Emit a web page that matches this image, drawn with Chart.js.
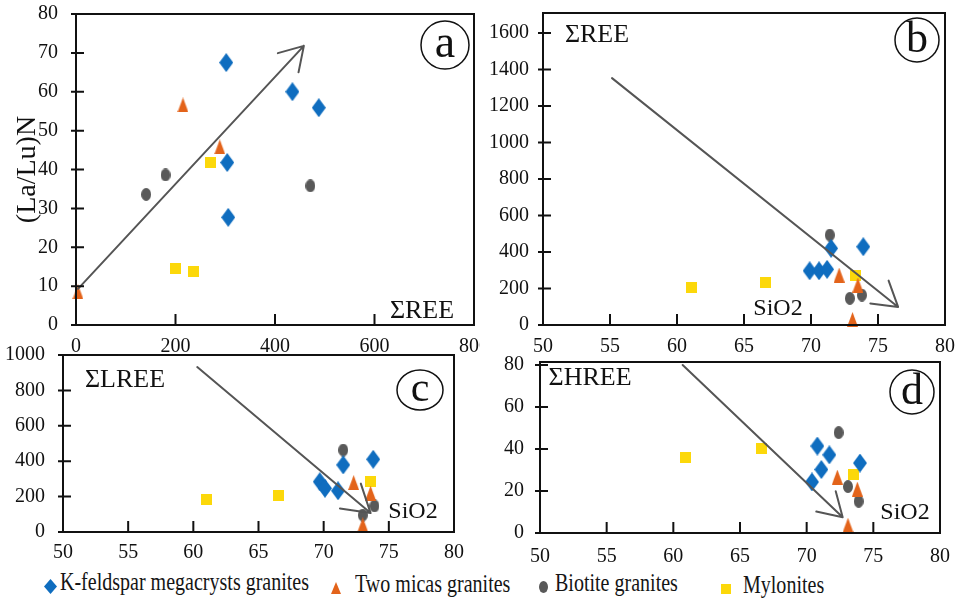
<!DOCTYPE html>
<html>
<head>
<meta charset="utf-8">
<script src="https://cdn.jsdelivr.net/npm/chart.js@4.4.1/dist/chart.umd.min.js"></script>
<style>
  body { margin: 0; background: #fff; }
  #wrap { position: relative; width: 956px; height: 602px; overflow: hidden; background: #fff; }
  canvas { position: absolute; }
  .leg { position: absolute; }
  .legtxt { position: absolute; font-family: 'Liberation Serif', 'Times New Roman', serif; font-size: 26px; line-height: 30px; color: #151515; white-space: nowrap; transform: scaleX(0.77); transform-origin: 0 50%; }
</style>
</head>
<body>
<div id="wrap">
  <canvas id="pa" width="480" height="352" style="left:0;top:0"></canvas>
  <canvas id="pb" width="476" height="352" style="left:480px;top:0"></canvas>
  <canvas id="pc" width="480" height="222" style="left:0;top:340px"></canvas>
  <canvas id="pd" width="476" height="222" style="left:480px;top:340px"></canvas>
  <div id="legend"></div>
</div>
<script>
const groups = ['K-feldspar megacrysts granites', 'Two micas granites', 'Biotite granites', 'Mylonites'];
const colors = ['#0f6dbf', '#e3631a', '#595959', '#fcd80a'];
const SERIF = "'Liberation Serif', 'Times New Roman', serif";

// (a) ΣREE vs (La/Lu)N
const aKfsX = [302, 435, 488, 304, 306];
const aKfsY = [67.5, 60, 55.9, 41.8, 27.7];
const aTwoX = [215, 289, 4];
const aTwoY = [56.6, 45.8, 8.5];
const aBioX = [141, 180, 471];
const aBioY = [33.6, 38.6, 35.8];
const aMylX = [270, 201, 236];
const aMylY = [41.8, 14.6, 13.7];
const aArrowX = [4, 458];
const aArrowY = [9.3, 71.8];

// (b) SiO2 vs ΣREE
const bKfsX = [69.9, 70.6, 71.2, 71.5, 73.9];
const bKfsY = [297, 297, 305, 420, 429];
const bTwoX = [72.1, 73.5, 73.1];
const bTwoY = [274, 219, 30];
const bBioX = [71.4, 72.9, 73.8];
const bBioY = [493, 146, 164];
const bMylX = [61.1, 66.6, 73.3];
const bMylY = [206, 232, 274];
const bArrowX = [55.15, 76.5];
const bArrowY = [1353, 99];

// (c) SiO2 vs ΣLREE
const cKfsX = [69.7, 70.1, 71.1, 71.5, 73.8];
const cKfsY = [284, 247, 233, 379, 411];
const cTwoX = [72.3, 73.6, 73.0];
const cTwoY = [279, 219, 40];
const cBioX = [71.5, 73.9, 73.0];
const cBioY = [463, 147, 96];
const cMylX = [61.0, 66.5, 73.6];
const cMylY = [186, 205, 284];
const cArrowX = [60.3, 73.6];
const cArrowY = [932, 107];

// (d) SiO2 vs ΣHREE
const dKfsX = [70.8, 71.7, 71.1, 70.4, 74.0];
const dKfsY = [41.4, 37.2, 30.2, 24.3, 33.3];
const dTwoX = [72.3, 73.8, 73.1];
const dTwoY = [26.6, 20.9, 3.7];
const dBioX = [72.4, 73.1, 73.9];
const dBioY = [47.8, 22.1, 15.1];
const dMylX = [60.9, 66.6, 73.5];
const dMylY = [36, 40.3, 27.9];
const dArrowX = [60.7, 72.7];
const dArrowY = [80, 7.5];

Chart.defaults.font.family = SERIF;
Chart.defaults.font.size = 20;
Chart.defaults.color = '#111';

function marker(shape, w, h, color) {
  const c = document.createElement('canvas');
  c.width = w;
  c.height = h;
  const g = c.getContext('2d');
  g.fillStyle = color;
  g.beginPath();
  if (shape === 'diamond') {
    g.moveTo(w / 2, 0); g.lineTo(w, h / 2); g.lineTo(w / 2, h); g.lineTo(0, h / 2);
  } else if (shape === 'triangle') {
    g.moveTo(w / 2, 0); g.lineTo(w, h); g.lineTo(0, h);
  } else if (shape === 'ellipse') {
    g.ellipse(w / 2, h / 2, w / 2, h / 2, 0, 0, Math.PI * 2);
  } else {
    g.rect(0, 0, w, h);
  }
  g.closePath();
  g.fill();
  return c;
}

const shapes = ['diamond', 'triangle', 'ellipse', 'square'];
const plotSizes = [[14, 19], [11, 15], [10, 13], [11, 11]];
const legendSizes = [[13, 15], [10, 12], [9, 12], [10, 10]];

function pts(xs, ys) {
  return xs.map((x, i) => ({ x, y: ys[i] }));
}

function deco(p) {
  return {
    id: 'deco',
    afterDatasetsDraw(chart) {
      const { ctx, chartArea: a, scales: { x, y } } = chart;
      ctx.save();
      // trend arrow
      const x0 = x.getPixelForValue(p.arrowX[0]);
      const y0 = y.getPixelForValue(p.arrowY[0]);
      const x1 = x.getPixelForValue(p.arrowX[1]);
      const y1 = y.getPixelForValue(p.arrowY[1]);
      const ang = Math.atan2(y0 - y1, x0 - x1);
      ctx.strokeStyle = '#555';
      ctx.lineWidth = 2;
      ctx.lineCap = 'round';
      ctx.beginPath();
      ctx.moveTo(x0, y0);
      ctx.lineTo(x1, y1);
      [-1, 1].forEach((s) => {
        ctx.moveTo(x1, y1);
        ctx.lineTo(x1 + p.head * Math.cos(ang + s * 0.55), y1 + p.head * Math.sin(ang + s * 0.55));
      });
      ctx.stroke();

      // frame and inward ticks
      ctx.strokeStyle = '#111';
      ctx.lineCap = 'butt';
      ctx.strokeRect(a.left, a.top, a.right - a.left, a.bottom - a.top);
      ctx.beginPath();
      x.ticks.forEach((t) => {
        const px = x.getPixelForValue(t.value);
        ctx.moveTo(px, a.bottom);
        ctx.lineTo(px, a.bottom - 11);
      });
      y.ticks.forEach((t) => {
        const py = y.getPixelForValue(t.value);
        ctx.moveTo(a.left - 5, py);
        ctx.lineTo(a.left + 8, py);
      });
      ctx.stroke();

      // labels inside the plot
      ctx.fillStyle = '#111';
      ctx.textAlign = 'center';
      ctx.textBaseline = 'middle';
      p.texts.forEach((t) => {
        ctx.font = `${t.size}px ${SERIF}`;
        ctx.fillText(t.text, t.x, t.y);
      });

      // panel letter
      const L = p.letter;
      ctx.lineWidth = 1.5;
      ctx.beginPath();
      ctx.ellipse(L.x, L.y, L.rx, L.ry, 0, 0, Math.PI * 2);
      ctx.stroke();
      ctx.font = `${L.size}px ${SERIF}`;
      ctx.fillText(L.text, L.x, L.y + L.dy);
      ctx.restore();
    },
  };
}

function makePanel(id, p) {
  const data = [p.kfs, p.two, p.bio, p.myl];
  new Chart(document.getElementById(id), {
    type: 'scatter',
    data: {
      datasets: groups.map((g, i) => ({
        label: g,
        data: pts(data[i][0], data[i][1]),
        pointStyle: marker(shapes[i], plotSizes[i][0], plotSizes[i][1], colors[i]),
        pointRadius: 5,
        clip: false,
      })),
    },
    options: {
      responsive: false,
      animation: false,
      events: [],
      layout: { padding: { left: 0, top: p.pad[0], right: p.pad[1], bottom: 0 } },
      plugins: { legend: { display: false }, tooltip: { enabled: false } },
      scales: {
        x: {
          type: 'linear',
          min: p.x[0],
          max: p.x[1],
          ticks: { stepSize: p.x[2], padding: p.xPad, maxRotation: 0, autoSkip: false, includeBounds: false, callback: (v) => String(v) },
          grid: { display: false },
          border: { display: false },
          afterFit: (s) => { s.height = p.xH; s.paddingLeft = 0; s.paddingRight = 0; },
        },
        y: {
          type: 'linear',
          min: p.y[0],
          max: p.y[1],
          ticks: { stepSize: p.y[2], padding: p.yPad, autoSkip: false, includeBounds: false, callback: (v) => String(v) },
          grid: { display: false },
          border: { display: false },
          title: p.yTitle
            ? { display: true, text: p.yTitle, font: { size: 28 }, padding: { top: 11, bottom: 0 } }
            : { display: false },
          afterFit: (s) => { s.width = p.yW; s.paddingTop = 0; s.paddingBottom = 0; },
        },
      },
    },
    plugins: [deco(p)],
  });
}

makePanel('pa', {
  kfs: [aKfsX, aKfsY], two: [aTwoX, aTwoY], bio: [aBioX, aBioY], myl: [aMylX, aMylY],
  arrowX: aArrowX, arrowY: aArrowY, head: 27,
  x: [0, 800, 200], y: [0, 80, 10],
  pad: [14, 5], yW: 76, xH: 27, xPad: 2, yPad: 10,
  yTitle: '(La/Lu)N',
  texts: [{ text: 'ΣREE', x: 422, y: 311, size: 26 }],
  letter: { text: 'a', x: 445, y: 45, rx: 24, ry: 24, size: 46, dy: 0 },
});

makePanel('pb', {
  kfs: [bKfsX, bKfsY], two: [bTwoX, bTwoY], bio: [bBioX, bBioY], myl: [bMylX, bMylY],
  arrowX: bArrowX, arrowY: bArrowY, head: 28,
  x: [50, 80, 5], y: [0, 1710, 200],
  pad: [13, 11], yW: 63, xH: 27, xPad: 2, yPad: 6,
  texts: [{ text: 'ΣREE', x: 117, y: 35, size: 26 }, { text: 'SiO2', x: 298, y: 309, size: 24 }],
  letter: { text: 'b', x: 437, y: 40, rx: 22, ry: 22, size: 44, dy: 0 },
});

makePanel('pc', {
  kfs: [cKfsX, cKfsY], two: [cTwoX, cTwoY], bio: [cBioX, cBioY], myl: [cMylX, cMylY],
  arrowX: cArrowX, arrowY: cArrowY, head: 31,
  x: [50, 80, 5], y: [0, 1000, 200],
  pad: [15, 26], yW: 63, xH: 30, xPad: 1, yPad: 10,
  texts: [{ text: 'ΣLREE', x: 125, y: 40, size: 26 }, { text: 'SiO2', x: 413, y: 172, size: 24 }],
  letter: { text: 'c', x: 420, y: 50, rx: 23, ry: 20, size: 42, dy: 0 },
});

makePanel('pd', {
  kfs: [dKfsX, dKfsY], two: [dTwoX, dTwoY], bio: [dBioX, dBioY], myl: [dMylX, dMylY],
  arrowX: dArrowX, arrowY: dArrowY, head: 27,
  x: [50, 80, 5], y: [0, 81.4, 20],
  pad: [22, 16], yW: 60, xH: 29, xPad: 4, yPad: 8,
  texts: [{ text: 'ΣHREE', x: 110, y: 38, size: 26 }, { text: 'SiO2', x: 425, y: 173, size: 24 }],
  letter: { text: 'd', x: 432, y: 52, rx: 22, ry: 22, size: 44, dy: 0 },
});

// legend row under the panels
const legendPos = [[50, 586, 60], [336, 588, 355], [543, 587, 555], [726, 589, 743]];
const legend = document.getElementById('legend');
groups.forEach((g, i) => {
  const [mx, my, tx] = legendPos[i];
  const [w, h] = legendSizes[i];
  const img = document.createElement('img');
  img.src = marker(shapes[i], w, h, colors[i]).toDataURL();
  img.className = 'leg';
  img.style.left = `${mx - w / 2}px`;
  img.style.top = `${my - h / 2}px`;
  legend.appendChild(img);
  const span = document.createElement('span');
  span.className = 'legtxt';
  span.textContent = g;
  span.style.left = `${tx}px`;
  span.style.top = `${my - 19}px`;
  legend.appendChild(span);
});
</script>
</body>
</html>
